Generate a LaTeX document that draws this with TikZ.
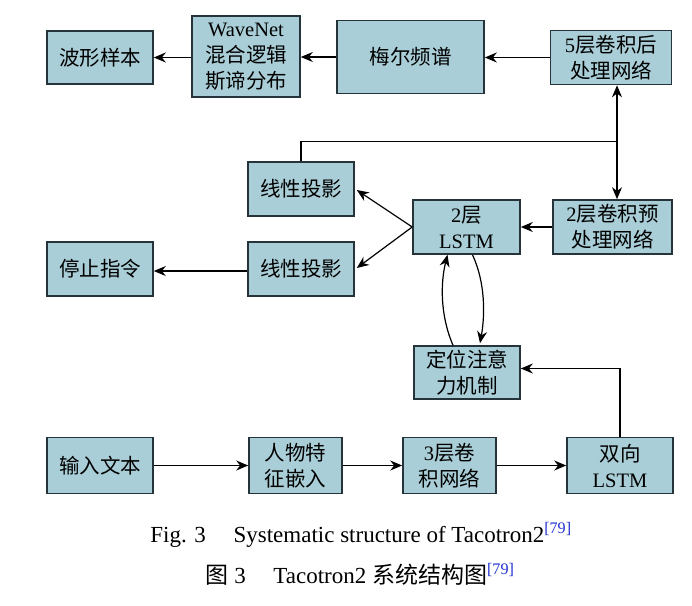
\documentclass[tikz,border=0pt]{standalone}
\usepackage{fontspec}
\setmainfont{Liberation Serif}
\newfontfamily\cjk{Noto Sans CJK SC}
\usetikzlibrary{arrows.meta,calc}
\definecolor{boxfill}{HTML}{A9CED7}
\definecolor{boxline}{HTML}{25343A}
\definecolor{refblue}{HTML}{1F2FD0}
\begin{document}
\begin{tikzpicture}[x=1pt,y=-1pt,
  blk/.style={draw=boxline,line width=1.6pt,fill=boxfill,inner sep=0pt,align=center,font=\fontsize{20.5}{26}\selectfont},
  conn/.style={line width=1.2pt,-{Stealth[length=12pt,width=10pt]}},
  plain/.style={line width=1.2pt}]
\path[use as bounding box] (0,0) rectangle (692,605);
% top row
\node[blk,minimum width=106pt,minimum height=53pt] (wave) at (100,57.5) {\cjk 波形样本};
\node[blk,minimum width=108pt,minimum height=81pt] (wn) at (246,56.5) {WaveNet\\{\cjk 混合逻辑}\\{\cjk 斯谛分布}};
\node[blk,minimum width=147pt,minimum height=73pt] (mel) at (410.5,57) {\cjk 梅尔频谱};
\node[blk,minimum width=121pt,minimum height=54pt] (post) at (611,57.5) {5{\cjk 层卷积后}\\{\cjk 处理网络}};
% middle
\node[blk,minimum width=106pt,minimum height=54pt] (lp1) at (301,189) {\cjk 线性投影};
\node[blk,minimum width=107pt,minimum height=54pt] (lstm) at (466.5,227) {2{\cjk 层}\\LSTM};
\node[blk,minimum width=119pt,minimum height=54pt] (pre) at (612.5,227) {2{\cjk 层卷积预}\\{\cjk 处理网络}};
\node[blk,minimum width=106pt,minimum height=54pt] (stop) at (100,269) {\cjk 停止指令};
\node[blk,minimum width=106pt,minimum height=54pt] (lp2) at (301,269) {\cjk 线性投影};
\node[blk,minimum width=106pt,minimum height=53pt] (att) at (467,372.5) {{\cjk 定位注意}\\{\cjk 力机制}};
% bottom row
\node[blk,minimum width=106pt,minimum height=56pt] (inp) at (100,465.5) {\cjk 输入文本};
\node[blk,minimum width=93pt,minimum height=56pt] (emb) at (295.5,465.5) {{\cjk 人物特}\\{\cjk 征嵌入}};
\node[blk,minimum width=93pt,minimum height=56pt] (conv) at (449.5,465.5) {3{\cjk 层卷}\\{\cjk 积网络}};
\node[blk,minimum width=106pt,minimum height=56pt] (bil) at (620,465.5) {{\cjk 双向}\\LSTM};
% connectors top
\draw[conn] (post.west) -- (mel.east |- post.west);
\draw[conn] (mel.west) -- (wn.east |- mel.west);
\draw[conn] (wn.west |- wave.east) -- (wave.east);
% vertical double arrow
\coordinate (j) at ($(post.south)+(6,56)$);
\draw[line width=1.2pt,{Stealth[length=12pt,width=10pt]}-{Stealth[length=12pt,width=10pt]}] ($(post.south)+(6,0)$) -- ($(pre.north)+(4.5,0)$);
\draw[plain] (lp1.north) |- (j);
% LSTM fan-out
\draw[conn] (pre.west) -- (lstm.east);
\draw[conn] (lstm.west) -- ($(lp1.east)+(2,1)$);
\draw[conn] (lstm.west) -- ($(lp2.east)+(2,-1)$);
\draw[conn] ($(lp2.west)+(0,2)$) -- ($(stop.east)+(0,2)$);
% LSTM <-> attention curves
\draw[conn] ($(att.north)+(-14,0)$) .. controls ($(att.north)+(-27,-30)$) and ($(lstm.south)+(-26,28)$) .. ($(lstm.south)+(-19,0)$);
\draw[conn] ($(lstm.south)+(6,0)$) .. controls ($(lstm.south)+(19,28)$) and ($(att.north)+(18,-30)$) .. ($(att.north)+(13,-2)$);
% bi-LSTM to attention
\draw[conn] (bil.north) |- ($(att.east)+(0,-4)$);
% bottom row
\draw[conn] (inp.east) -- (emb.west);
\draw[conn] (emb.east) -- (conv.west);
\draw[conn] (conv.east) -- (bil.west);
% captions
\node[font=\fontsize{23}{26}\selectfont,inner sep=0pt] (cap1) at (361,535) {Fig. 3\hspace{1.2em}Systematic structure of Tacotron2\textsuperscript{\color{refblue}[79]}};
\node[font=\fontsize{23}{26}\selectfont,inner sep=0pt] (cap2) at (360,574) {{\cjk 图} 3\hspace{1.2em}Tacotron2 {\cjk 系统结构图}\textsuperscript{\color{refblue}[79]}};
\end{tikzpicture}
\end{document}
